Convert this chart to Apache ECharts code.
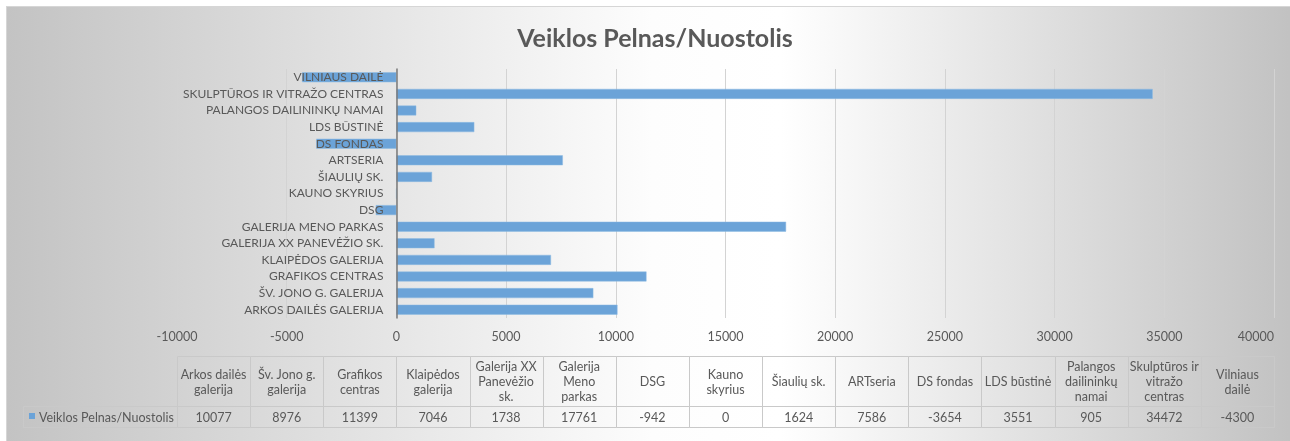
<!DOCTYPE html>
<html>
<head>
<meta charset="utf-8">
<script src="https://cdn.jsdelivr.net/npm/echarts@6/dist/echarts.min.js"></script>
<style>
  html, body { margin: 0; padding: 0; background: #fff; }
  #bg {
    position: absolute; left: 6px; top: 6px; width: 1290px; height: 441px;
    border-top: 1px solid #d6d6d6; border-left: 1px solid #d6d6d6;
    background: linear-gradient(to right, #c3c3c3 0%, #fdfdfd 50%, #ffffff 60%, #c1c1c1 100%);
  }
  #main { position: absolute; left: 0; top: 0; width: 1290px; height: 441px; }
</style>
</head>
<body>
<div id="bg"></div>
<div id="main"></div>
<script>
// data
const seriesName = 'Veiklos Pelnas/Nuostolis';
const categories = ['Arkos dailės galerija', 'Šv. Jono g. galerija', 'Grafikos centras', 'Klaipėdos galerija',
  'Galerija XX Panevėžio sk.', 'Galerija Meno parkas', 'DSG', 'Kauno skyrius', 'Šiaulių sk.', 'ARTseria',
  'DS fondas', 'LDS būstinė', 'Palangos dailininkų namai', 'Skulptūros ir vitražo centras', 'Vilniaus dailė'];
const headerLabels = ['Arkos dailės\ngalerija', 'Šv. Jono g.\ngalerija', 'Grafikos\ncentras', 'Klaipėdos\ngalerija',
  'Galerija XX\nPanevėžio\nsk.', 'Galerija\nMeno\nparkas', 'DSG', 'Kauno\nskyrius', 'Šiaulių sk.', 'ARTseria',
  'DS fondas', 'LDS būstinė', 'Palangos\ndailininkų\nnamai', 'Skulptūros ir\nvitražo\ncentras', 'Vilniaus\ndailė'];
const values = [10077, 8976, 11399, 7046, 1738, 17761, -942, 0, 1624, 7586, -3654, 3551, 905, 34472, -4300];
const xMin = -10000, xMax = 40000, xStep = 5000;

const FONT = 'Lato, "Noto Sans", sans-serif';
const TXT = '#595959';
const BAR = '#6ba3d8';

// layout of plot + table
const gridLeft = 177, gridRight = 16, gridTop = 69, gridBottom = 123;
const plotW = 1290 - gridLeft - gridRight;
const tableTop = 356, headerH = 50, rowH = 21, legendLeft = 23;
const colW = plotW / categories.length;
// category axis sits on the value 0
const zeroShift = (0 - xMin) / (xMax - xMin) * plotW;

let graphics = [];
const border = '#c9c9c9';
function cell(x, y, w, h) {
  graphics.push({
    type: 'rect', silent: true,
    shape: { x: Math.round(x) + 0.5, y: y + 0.5, width: Math.round(x + w) - Math.round(x), height: h },
    style: { fill: 'rgba(0,0,0,0)', stroke: border, lineWidth: 1 }
  });
}
function label(txt, x, y, align) {
  graphics.push({
    type: 'text', silent: true, x: x, y: y,
    style: { text: txt, fill: TXT, font: '12.5px ' + FONT, fontSize: 12.5, fontFamily: FONT,
      align: align || 'center', textAlign: align || 'center', verticalAlign: 'middle', textVerticalAlign: 'middle', lineHeight: 15 }
  });
}
categories.forEach(function (c, i) {
  const x = gridLeft + i * colW;
  cell(x, tableTop, colW, headerH);
  cell(x, tableTop + headerH, colW, rowH);
  label(headerLabels[i], x + colW / 2, tableTop + headerH / 2 + 1);
  label(String(values[i]), x + colW / 2, tableTop + headerH + rowH / 2 + 1);
});
cell(legendLeft, tableTop + headerH, gridLeft - legendLeft, rowH);
graphics.push({
  type: 'rect', silent: true,
  shape: { x: 29, y: tableTop + headerH + 7, width: 6, height: 6 },
  style: { fill: BAR }
});
label(seriesName, 39, tableTop + headerH + rowH / 2 + 1, 'left');

const chart = echarts.init(document.getElementById('main'));
chart.setOption({
  animation: false,
  backgroundColor: 'transparent',
  title: {
    text: 'Veiklos Pelnas/Nuostolis',
    left: 650, top: 21, textAlign: 'center',
    textStyle: { fontFamily: FONT, fontSize: 25, fontWeight: 'bold', color: TXT }
  },
  grid: { left: gridLeft, right: gridRight, top: gridTop, bottom: gridBottom, containLabel: false, outerBoundsMode: 'none' },
  xAxis: {
    type: 'value', min: xMin, max: xMax, interval: xStep,
    axisLine: { show: false }, axisTick: { show: false },
    splitLine: { lineStyle: { color: '#d3d3d3', width: 1 } },
    axisLabel: {
      color: TXT, fontFamily: FONT, fontSize: 12.5, margin: 12, alignMaxLabel: 'right',
      formatter: function (v) { return String(v); }
    }
  },
  yAxis: {
    type: 'category', data: categories, z: 5,
    offset: -zeroShift,
    axisLine: { onZero: false, lineStyle: { color: '#7a7a7a', width: 1.5 } },
    axisTick: { show: false },
    axisLabel: {
      color: TXT, fontFamily: FONT, fontSize: 12, margin: 13, interval: 0, hideOverlap: false,
      formatter: function (v) { return v.toUpperCase(); }
    }
  },
  series: [{
    name: seriesName, type: 'bar', data: values,
    barCategoryGap: '40%',
    itemStyle: { color: BAR, borderColor: '#8fbbe3', borderWidth: 0.5 }
  }],
  graphic: graphics
});
</script>
</body>
</html>
